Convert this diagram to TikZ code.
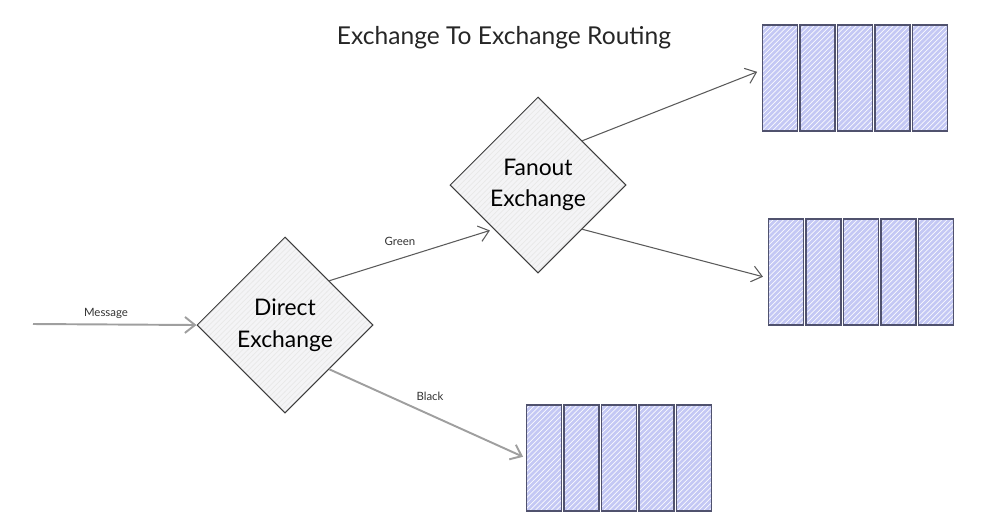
\documentclass[tikz,border=0pt]{standalone}
\usepackage{fontspec}
\setmainfont{Lato}
\usetikzlibrary{shapes.geometric,arrows.meta,patterns}

\definecolor{qline}{HTML}{50526E}
\definecolor{qfill}{HTML}{C4C8F4}
\definecolor{xline}{HTML}{3C3C3C}
\definecolor{xfill}{HTML}{F4F4F6}
\definecolor{aline}{HTML}{5A5A5A}

\begin{document}
\begin{tikzpicture}[x=0.02cm,y=-0.02cm,
			qslot/.style={rectangle,draw=qline,line width=0.8pt,minimum width=0.7cm,
				minimum height=2.12cm,inner sep=0pt,preaction={fill=qfill},
				pattern=north east lines,pattern color=white!90!qfill},
			xb/.style={diamond,aspect=1,draw=xline,line width=0.6pt,minimum width=3.52cm,
				minimum height=3.52cm,inner sep=1pt,align=center,
				font=\fontsize{13}{18}\selectfont,preaction={fill=xfill},
				pattern=north east lines,pattern color=black!9},
			arr/.style={draw=aline,line width=0.6pt,-{Straight Barb[length=0.2cm,width=0.32cm]}},
			thickarr/.style={arr,draw=gray!75,line width=1.1pt},
			lbl/.style={font=\fontsize{6.5}{8}\selectfont,text=black!80}]
			
			\useasboundingbox (0,0) rectangle (990,529);
			
			% Title
			\node[font=\fontsize{14}{16}\selectfont,text=black!85] (title) at (504,38) {Exchange To Exchange Routing};
			
			% Exchanges
			\node[xb] (direct) at (285,325) {Direct\\Exchange};
			\node[xb] (fanout) at (538,185) {Fanout\\Exchange};
			
			% Queues: five slots each
			\foreach \i in {1,...,5}{
				\node[qslot] (qtop\i) at ({780+(\i-1)*37.5},78) {};
				\node[qslot] (qmid\i) at ({786+(\i-1)*37.5},272) {};
				\node[qslot] (qlow\i) at ({544+(\i-1)*37.5},458) {};
			}
			
			% Incoming message
			\coordinate (msg) at (33,324);
			\draw[thickarr] (msg) -- (direct.west);
			\node[lbl] (lmsg) at (106,313) {Message};
			
			% Routing keys
			\draw[arr,shorten >=0.08cm] (direct.north east) -- (fanout.south west);
			\node[lbl] (lgreen) at (400,241) {Green};
			\draw[thickarr,shorten >=0.06cm] (direct.south east) -- (qlow1.west);
			\node[lbl] (lblack) at (430,396) {Black};
			
			% Fanout to both queues
			\draw[arr,shorten >=0.1cm] (fanout.north east) -- ([yshift=0.16cm]qtop1.west);
			\draw[arr,shorten >=0.1cm] (fanout.south east) -- ([yshift=-0.12cm]qmid1.west);
			
		\end{tikzpicture}
\end{document}
